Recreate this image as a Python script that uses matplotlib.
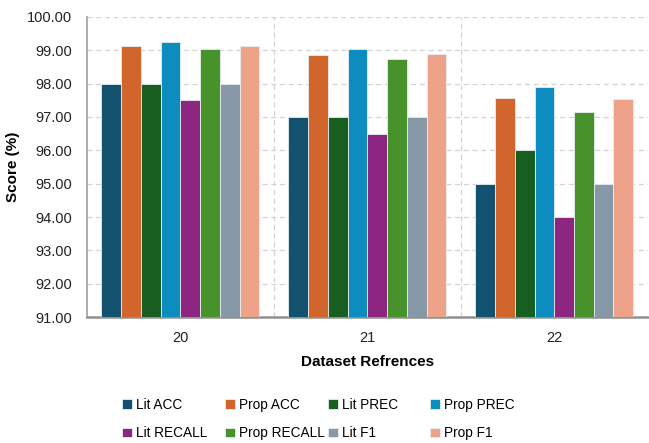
import numpy as np
import matplotlib.pyplot as plt

plt.rcParams['font.family'] = ['Liberation Sans', 'DejaVu Sans']

datasets = ['20', '21', '22']
series = ['Lit ACC', 'Prop ACC', 'Lit PREC', 'Prop PREC',
          'Lit RECALL', 'Prop RECALL', 'Lit F1', 'Prop F1']
lit_acc = [98.00, 97.00, 95.00]
prop_acc = [99.13, 98.86, 97.56]
lit_prec = [98.00, 97.00, 96.00]
prop_prec = [99.25, 99.04, 97.91]
lit_recall = [97.50, 96.50, 94.00]
prop_recall = [99.04, 98.74, 97.16]
lit_f1 = [98.00, 97.00, 95.00]
prop_f1 = [99.13, 98.89, 97.53]
values = [lit_acc, prop_acc, lit_prec, prop_prec,
          lit_recall, prop_recall, lit_f1, prop_f1]
colors = ['#12526F', '#D2652C', '#175E20', '#0D8CBF',
          '#8C2680', '#47922B', '#8799A8', '#EFA28A']

fig = plt.figure(figsize=(6.49, 4.43), dpi=100)
ax = fig.add_axes([0.134, 0.284, 0.864, 0.678])

x = np.arange(len(datasets))
w = 0.845 / len(series)
handles = []
for i, (name, vals, c) in enumerate(zip(series, values, colors)):
    off = (i - (len(series) - 1) / 2) * w
    b = ax.bar(x + off, vals, w, color=c, edgecolor='#E8EEF2', linewidth=0.6,
               label=name, zorder=3)
    handles.append(b)

ax.set_ylim(91, 100)
ax.set_xlim(-0.5, 2.5)
ax.set_yticks(np.arange(91, 100.5, 1))
ax.set_yticklabels([f'{v:.2f}' for v in np.arange(91, 100.5, 1)])
ax.set_xticks(x)
ax.set_xticklabels(datasets)
ax.tick_params(axis='both', length=0, labelsize=10.5, colors='#222222')
ax.tick_params(axis='x', pad=10)
ax.tick_params(axis='y', pad=11)

# dashed grid, vertical lines split the dataset groups
ax.grid(axis='y', linestyle=(0, (4, 3)), color='#D3D3D3', linewidth=0.9, zorder=0)
for gx in [0.5, 1.5]:
    ax.axvline(gx, linestyle=(0, (4, 3)), color='#D3D3D3', linewidth=0.9, zorder=0)

for s in ['top', 'right']:
    ax.spines[s].set_visible(False)
ax.spines['left'].set_color('#A0A0A0')
ax.spines['left'].set_linewidth(1.2)
ax.spines['bottom'].set_color('#909090')
ax.spines['bottom'].set_linewidth(1.8)

ax.set_ylabel('Score (%)', fontsize=11, fontweight='bold', labelpad=5)
ax.set_xlabel('Dataset Refrences', fontsize=11, fontweight='bold', labelpad=7)

# legend: four fixed-width columns, two rows each
col_x = [122, 225, 328, 430]
for j, cx in enumerate(col_x):
    idx = [j, j + 4]
    fig.legend([handles[i] for i in idx], [series[i] for i in idx],
               loc='upper left', bbox_to_anchor=(cx / 649, 1 - 398 / 443),
               frameon=False, fontsize=9.8, handlelength=0.7, handleheight=0.7,
               handletextpad=0.3, labelspacing=1.05, borderpad=0, borderaxespad=0)

fig.savefig('out.png', dpi=100)
